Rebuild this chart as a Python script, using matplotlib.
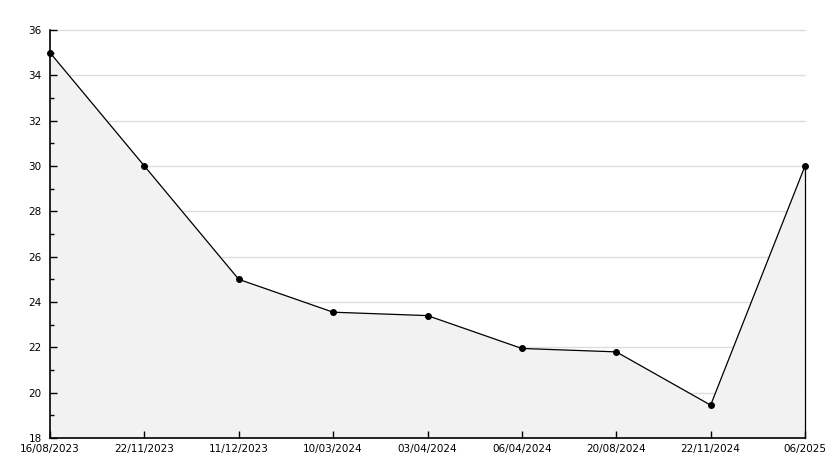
import numpy as np
import matplotlib.pyplot as plt
from matplotlib.ticker import MultipleLocator

dates = ["16/08/2023", "22/11/2023", "11/12/2023", "10/03/2024", "03/04/2024",
         "06/04/2024", "20/08/2024", "22/11/2024", "06/2025"]
values = [35, 30, 25, 23.55, 23.4, 21.95, 21.8, 19.45, 30]
grid_levels = [20, 22, 24, 26, 28, 30, 32, 34, 36]

x = np.arange(len(dates))

fig = plt.figure(figsize=(8.34, 4.68), dpi=100)
ax = fig.add_axes([50/834, 30/468, 755/834, 408/468])

# gridlines behind the fill, ticks on top
for g in grid_levels:
    ax.axhline(g, color="#dddddd", lw=1, zorder=0.1, clip_on=False)

ax.fill_between(x, values, 18, color="#f2f2f2", zorder=0.5)
ax.plot([x[-1], x[-1]], [18, values[-1]], color="black", lw=0.9, zorder=3,
        clip_on=False)
ax.plot(x, values, color="black", lw=0.9, marker="o", markersize=4,
        zorder=4, clip_on=False)

ax.set_xlim(x[0], x[-1])
ax.set_ylim(18, 36)
ax.yaxis.set_major_locator(MultipleLocator(2))
ax.yaxis.set_minor_locator(MultipleLocator(1))
ax.set_xticks(x)
ax.set_xticklabels(dates)

for s in ["top", "right"]:
    ax.spines[s].set_visible(False)
for s in ["left", "bottom"]:
    ax.spines[s].set_linewidth(1.2)
    ax.spines[s].set_zorder(5)

ax.tick_params(axis="both", which="major", direction="in", length=5, width=1,
               labelsize=7.5, pad=6)
ax.tick_params(axis="y", which="minor", direction="in", length=3, width=1)
ax.tick_params(axis="x", pad=4)

fig.savefig("out.png", dpi=100)
